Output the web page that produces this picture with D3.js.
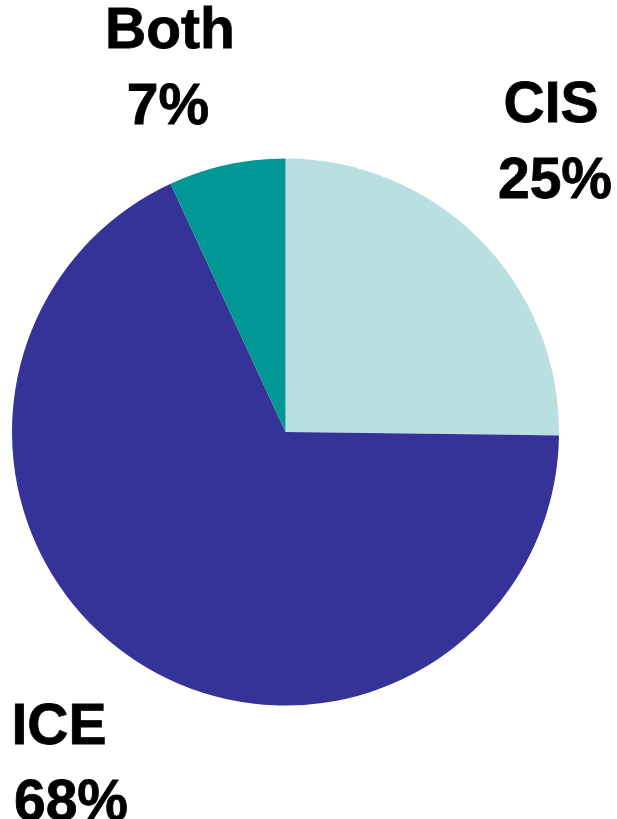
<!DOCTYPE html>
<meta charset="utf-8">
<script src="https://d3js.org/d3.v7.min.js"></script>
<style>
  body { margin: 0; background: white; }
  text { font-family: "Liberation Sans", Arial, sans-serif; font-weight: bold; }
</style>
<div id="chart"></div>
<script>
  // data (clockwise from 12 o'clock)
  var categories = ["CIS", "ICE", "Both"];
  var shares = [25.2, 67.9, 6.9];
  var pctLabels = ["25%", "68%", "7%"];
  var colors = ["#b9dfe1", "#353397", "#009795"];

  var width = 617, height = 819;
  var cx = 285.5, cy = 432, radius = 273.5;

  var svg = d3.select("#chart").append("svg")
      .attr("width", width)
      .attr("height", height);

  var pie = d3.pie().sort(null).value(function(d) { return d; });
  var arc = d3.arc().innerRadius(0).outerRadius(radius);

  var g = svg.append("g").attr("transform", "translate(" + cx + "," + cy + ")");
  g.selectAll("path")
    .data(pie(shares))
    .enter()
    .append("path")
      .attr("d", arc)
      .attr("fill", function(d, i) { return colors[i]; });

  // label spots (name line / percent line), outside the pie
  var labelPos = [
    {x1: 551, x2: 555, y: 122},
    {x1: 59, x2: 71, y: 744},
    {x1: 170, x2: 168, y: 48}
  ];
  var lineGap = 76;

  categories.forEach(function(name, i) {
    var p = labelPos[i];
    [[p.x1, p.y, name], [p.x2, p.y + lineGap, pctLabels[i]]].forEach(function(t) {
      svg.append("text")
        .attr("x", t[0]).attr("y", t[1])
        .attr("text-anchor", "middle")
        .style("font-size", "57px")
        .style("stroke", "#000")
        .style("stroke-width", "0.8px")
        .text(t[2]);
    });
  });
</script>
